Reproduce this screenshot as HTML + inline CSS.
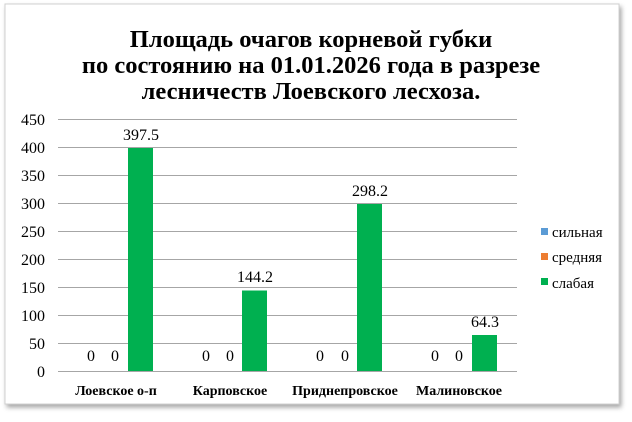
<!DOCTYPE html>
<html><head><meta charset="utf-8"><style>
body{margin:0;background:#fff;width:632px;height:417px;overflow:hidden}
svg text{font-family:"Liberation Serif","DejaVu Serif",serif}
</style></head><body>
<svg width="632" height="417" xmlns="http://www.w3.org/2000/svg">
<defs><filter id="s" x="-5%" y="-5%" width="110%" height="110%"><feDropShadow dx="2" dy="3" stdDeviation="2.5" flood-color="#000" flood-opacity="0.35"/></filter></defs>
<rect x="5" y="4" width="614" height="400" fill="#fff" stroke="#d0d0d0" filter="url(#s)"/>
<g font-weight="bold" font-size="24.5" text-anchor="middle" fill="#000">
<text x="311" y="47">Площадь очагов корневой губки</text>
<text x="311" y="73">по состоянию на 01.01.2026 года в разрезе</text>
<text x="311" y="99">лесничеств Лоевского лесхоза.</text>
</g>
<g stroke="#a6a6a6" stroke-width="1">
<line x1="58" y1="119.5" x2="517" y2="119.5"/>
<line x1="58" y1="147.5" x2="517" y2="147.5"/>
<line x1="58" y1="175.5" x2="517" y2="175.5"/>
<line x1="58" y1="203.5" x2="517" y2="203.5"/>
<line x1="58" y1="231.5" x2="517" y2="231.5"/>
<line x1="58" y1="259.5" x2="517" y2="259.5"/>
<line x1="58" y1="287.5" x2="517" y2="287.5"/>
<line x1="58" y1="315.5" x2="517" y2="315.5"/>
<line x1="58" y1="343.5" x2="517" y2="343.5"/>
<line x1="58" y1="371.5" x2="517" y2="371.5"/>
</g>
<g font-size="16" text-anchor="end" fill="#000">
<text x="45" y="125">450</text><text x="45" y="153">400</text><text x="45" y="181">350</text>
<text x="45" y="209">300</text><text x="45" y="237">250</text><text x="45" y="265">200</text>
<text x="45" y="293">150</text><text x="45" y="321">100</text><text x="45" y="349">50</text>
<text x="45" y="377">0</text>
</g>
<g fill="#00b050">
<rect x="128" y="148" width="25" height="223"/>
<rect x="242" y="290.5" width="25" height="80.5"/>
<rect x="357" y="204" width="25" height="167"/>
<rect x="472" y="335" width="25" height="36"/>
</g>
<g font-size="16" text-anchor="middle" fill="#000">
<text x="141" y="140">397.5</text><text x="255" y="282">144.2</text>
<text x="370" y="196">298.2</text><text x="485" y="327">64.3</text>
<text x="91" y="361">0</text><text x="115" y="361">0</text>
<text x="206" y="361">0</text><text x="230" y="361">0</text>
<text x="320" y="361">0</text><text x="345" y="361">0</text>
<text x="435" y="361">0</text><text x="459" y="361">0</text>
</g>
<g font-size="14" font-weight="bold" text-anchor="middle" fill="#000">
<text x="116" y="395">Лоевское о-п</text>
<text x="230" y="395">Карповское</text>
<text x="345" y="395">Приднепровское</text>
<text x="459" y="395">Малиновское</text>
</g>
<rect x="541" y="228" width="7" height="7" fill="#5b9bd5"/>
<rect x="541" y="253" width="7" height="7" fill="#ed7d31"/>
<rect x="541" y="278" width="7" height="7" fill="#00b050"/>
<g font-size="15" fill="#000">
<text x="552" y="237">сильная</text>
<text x="552" y="262">средняя</text>
<text x="552" y="288">слабая</text>
</g>
</svg>
</body></html>
